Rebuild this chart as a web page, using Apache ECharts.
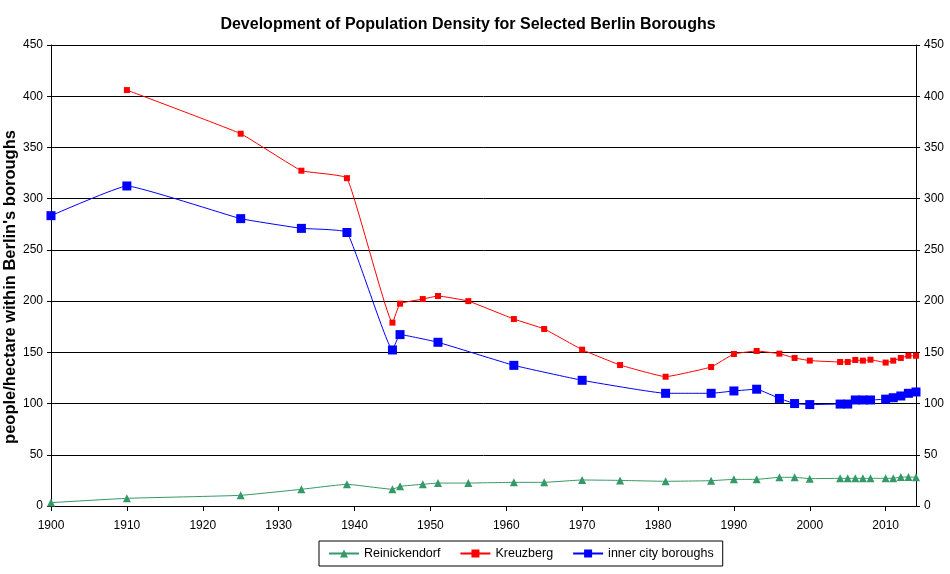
<!DOCTYPE html>
<html><head><meta charset="utf-8">
<script src="https://cdn.jsdelivr.net/npm/echarts@6/dist/echarts.min.js"></script>
<style>html,body{margin:0;padding:0;background:#fff}#c{width:950px;height:574px}</style>
</head><body><div id="c"></div>
<script>
const reinYears = [1900,1910,1925,1933,1939,1945,1946,1949,1951,1955,1961,1965,1970,1975,1981,1987,1990,1993,1996,1998,2000,2004,2005,2006,2007,2008,2010,2011,2012,2013,2014];
const reinValues = [3.3,7.5,10.4,16.3,21.2,16.3,19.2,21.2,22.4,22.4,23.1,23.1,25.4,25,24.1,24.7,26,26,28,28,26.7,27,27,27,27,27,27,27,28.3,28.3,28];
const kreuzYears = [1910,1925,1933,1939,1945,1946,1949,1951,1955,1961,1965,1970,1975,1981,1987,1990,1993,1996,1998,2000,2004,2005,2006,2007,2008,2010,2011,2012,2013,2014];
const kreuzValues = [406,363.4,327.3,320,179,197.5,202,205,200,182.5,172.8,152.6,137.6,126.2,135.7,148.4,151.3,148.7,144.5,141.9,140.6,140.6,142.5,141.9,142.8,140,141.9,144.5,146.7,146.7];
const innerYears = [1900,1910,1925,1933,1939,1945,1946,1951,1961,1970,1981,1987,1990,1993,1996,1998,2000,2004,2005,2006,2007,2008,2010,2011,2012,2013,2014];
const innerValues = [283.4,312.4,280.5,271,267,152.3,167.3,159.8,137.3,122.7,110,110,112.3,114,105,100,99,99.5,99.5,103.5,103.5,103.5,104.3,105.7,107.4,110,111.3];
const seriesNames = ['Reinickendorf','Kreuzberg','inner city boroughs'];
const yAxisTitle = "people/hectare within Berlin's boroughs";
const chartTitle = 'Development of Population Density for Selected Berlin Boroughs';

const zip = (xs, ys) => xs.map((x, i) => [x, ys[i]]);
const font = 'Liberation Sans, Arial, sans-serif';
const chart = echarts.init(document.getElementById('c'));
const yAxisCommon = {
  type: 'value', min: 0, max: 450, interval: 50,
  axisLine: {show: true, lineStyle: {color: '#000', width: 1}},
  axisTick: {show: true, inside: false, length: 4, lineStyle: {color: '#000'}},
  axisLabel: {color: '#000', fontFamily: font, fontSize: 12, margin: 8},
};
chart.setOption({
  animation: false,
  backgroundColor: '#fff',
  title: {
    text: chartTitle,
    left: 463, top: 12, textAlign: 'center',
    textStyle: {fontFamily: font, fontSize: 16, fontWeight: 'bold', color: '#000'}
  },
  graphic: [{
    type: 'text', x: 10, y: 287, rotation: Math.PI / 2,
    style: {text: yAxisTitle, align: 'center', verticalAlign: 'middle',
      font: 'bold 16.5px ' + font, fill: '#000'}
  }],
  grid: {left: 51, right: 34, top: 45, bottom: 68, containLabel: false, outerBoundsMode: 'none'},
  legend: {
    top: 541, left: 319,
    data: seriesNames,
    itemWidth: 30, itemHeight: 10, itemGap: 19,
    borderColor: '#000', borderWidth: 1, padding: [6, 9, 6, 9],
    textStyle: {fontFamily: font, fontSize: 12.5, color: '#000'}
  },
  xAxis: {
    type: 'value', min: 1900, max: 2014, interval: 10,
    axisLine: {show: true, onZero: false, lineStyle: {color: '#000'}},
    axisTick: {show: true, length: 5, lineStyle: {color: '#000'}},
    splitLine: {show: false},
    axisLabel: {color: '#000', fontFamily: font, fontSize: 12, margin: 14,
      formatter: v => String(v), showMaxLabel: false}
  },
  yAxis: [
    Object.assign({}, yAxisCommon, {
      position: 'left',
      splitLine: {show: true, lineStyle: {color: '#000', width: 1}}
    }),
    Object.assign({}, yAxisCommon, {
      position: 'right',
      splitLine: {show: false}
    })
  ],
  series: [
    {
      name: seriesNames[0], type: 'line', data: zip(reinYears, reinValues),
      smooth: 0.1, symbol: 'triangle', symbolSize: 8,
      lineStyle: {color: '#339966', width: 1}, itemStyle: {color: '#339966'}
    },
    {
      name: seriesNames[1], type: 'line', data: zip(kreuzYears, kreuzValues),
      smooth: 0.1, symbol: 'rect', symbolSize: 6,
      lineStyle: {color: '#ff0000', width: 1}, itemStyle: {color: '#ff0000'}
    },
    {
      name: seriesNames[2], type: 'line', data: zip(innerYears, innerValues),
      smooth: 0.1, symbol: 'rect', symbolSize: 9,
      lineStyle: {color: '#0000ff', width: 1}, itemStyle: {color: '#0000ff'}
    }
  ]
});
</script></body></html>
